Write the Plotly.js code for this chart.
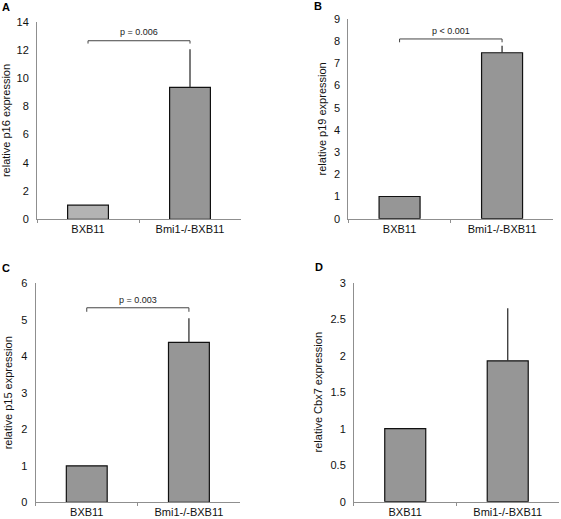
<!DOCTYPE html>
<html>
<head>
<meta charset="utf-8">
<script src="https://cdn.plot.ly/plotly-3.0.1.min.js"></script>
<style>html,body{margin:0;padding:0;background:#fff;}#chart{width:561px;height:519px;}</style>
</head>
<body>
<div id="chart"></div>
<script>
const categories = ['BXB11', 'Bmi1-/-BXB11'];

const p16Values = [1, 9.35];
const p16Errors = [0, 2.7];
const p16Bracket = [12.45, 12.65];
const p16PText = 'p = 0.006';
const p16PTextY = 13.25;

const p19Values = [1, 7.48];
const p19Errors = [0, 0.32];
const p19Bracket = [7.95, 8.1];
const p19PText = 'p < 0.001';
const p19PTextY = 8.46;

const p15Values = [1, 4.38];
const p15Errors = [0, 0.66];
const p15Bracket = [5.22, 5.33];
const p15PText = 'p = 0.003';
const p15PTextY = 5.54;

const cbx7Values = [1, 1.93];
const cbx7Errors = [0, 0.72];

const panelLabels = ['A', 'B', 'C', 'D'];
const yTitles = ['relative p16 expression', 'relative p19 expression', 'relative p15 expression', 'relative Cbx7 expression'];

const FONT = 'Liberation Sans, Arial, sans-serif';
const AXIS_GRAY = '#8f8f8f';

function barTrace(vals, errs, ax, colors) {
  return {
    type: 'bar', x: categories, y: vals, xaxis: 'x' + ax, yaxis: 'y' + ax,
    marker: {color: colors, line: {color: '#111', width: 1.2}},
    error_y: {type: 'data', symmetric: false, array: errs, arrayminus: errs.map(() => 0),
              color: '#333', thickness: 1.3, width: 0},
    showlegend: false, hoverinfo: 'x+y'
  };
}
function bracketTrace(br, ax) {
  return {
    type: 'scatter', mode: 'lines', xaxis: 'x' + ax, yaxis: 'y' + ax,
    x: [categories[0], categories[0], categories[1], categories[1]],
    y: [br[0], br[1], br[1], br[0]],
    line: {color: '#444', width: 1}, showlegend: false, hoverinfo: 'skip'
  };
}

const data = [
  barTrace(p16Values, p16Errors, '', ['#b3b3b3', '#969696']),
  bracketTrace(p16Bracket, ''),
  barTrace(p19Values, p19Errors, '2', ['#969696', '#969696']),
  bracketTrace(p19Bracket, '2'),
  barTrace(p15Values, p15Errors, '3', ['#969696', '#969696']),
  bracketTrace(p15Bracket, '3'),
  barTrace(cbx7Values, cbx7Errors, '4', ['#969696', '#969696'])
];

function xax(domain, anchor) {
  return {
    domain: domain, anchor: anchor, type: 'category', range: [-0.5, 1.5],
    showline: true, linecolor: AXIS_GRAY, linewidth: 1,
    ticks: 'outside', tickson: 'boundaries', ticklen: 3, tickcolor: AXIS_GRAY,
    showgrid: false, zeroline: false, fixedrange: true,
    tickfont: {family: FONT, size: 11, color: '#111'}
  };
}
function yax(domain, anchor, range, dtick, title, standoff) {
  return {
    domain: domain, anchor: anchor, range: range, dtick: dtick,
    showline: true, linecolor: AXIS_GRAY, linewidth: 1,
    ticks: '', showgrid: false, zeroline: false, fixedrange: true,
    ticklabelstandoff: 5,
    tickfont: {family: FONT, size: 11, color: '#111'},
    title: {text: title, font: {family: FONT, size: 11, color: '#111'}, standoff: standoff}
  };
}

function panelLabel(text, px, py) {
  return {text: '<b>' + text + '</b>', x: px / 561, y: 1 - py / 519, xref: 'paper', yref: 'paper',
          xanchor: 'center', yanchor: 'middle', showarrow: false,
          font: {family: FONT, size: 11, color: '#000'}};
}

const layout = {
  width: 561, height: 519,
  margin: {l: 0, r: 0, t: 0, b: 0},
  paper_bgcolor: '#fff', plot_bgcolor: '#fff',
  bargap: 0.6,
  xaxis: xax([0.0660, 0.4296], 'y'),
  yaxis: yax([0.5775, 0.9582], 'x', [0, 14], 2, yTitles[0], 6),
  xaxis2: xax([0.6209, 0.9863], 'y2'),
  yaxis2: yax([0.5786, 0.9634], 'x2', [0, 9], 1, yTitles[1], 5),
  xaxis3: xax([0.0636, 0.4278], 'y3'),
  yaxis3: yax([0.0322, 0.4541], 'x3', [0, 6], 1, yTitles[2], 6),
  xaxis4: xax([0.6310, 0.9964], 'y4'),
  yaxis4: yax([0.0334, 0.4553], 'x4', [0, 3], 0.5, yTitles[3], 5),
  annotations: [
    {text: p16PText, x: 0.5, y: p16PTextY, xref: 'x', yref: 'y', showarrow: false, font: {family: FONT, size: 9, color: '#222'}},
    {text: p19PText, x: 0.5, y: p19PTextY, xref: 'x2', yref: 'y2', showarrow: false, font: {family: FONT, size: 9, color: '#222'}},
    {text: p15PText, x: 0.5, y: p15PTextY, xref: 'x3', yref: 'y3', showarrow: false, font: {family: FONT, size: 9, color: '#222'}},
    panelLabel(panelLabels[0], 6, 7),
    panelLabel(panelLabels[1], 318, 6),
    panelLabel(panelLabels[2], 6, 268),
    panelLabel(panelLabels[3], 319, 267)
  ]
};

Plotly.newPlot('chart', data, layout, {displayModeBar: false, staticPlot: true});
</script>
</body>
</html>
